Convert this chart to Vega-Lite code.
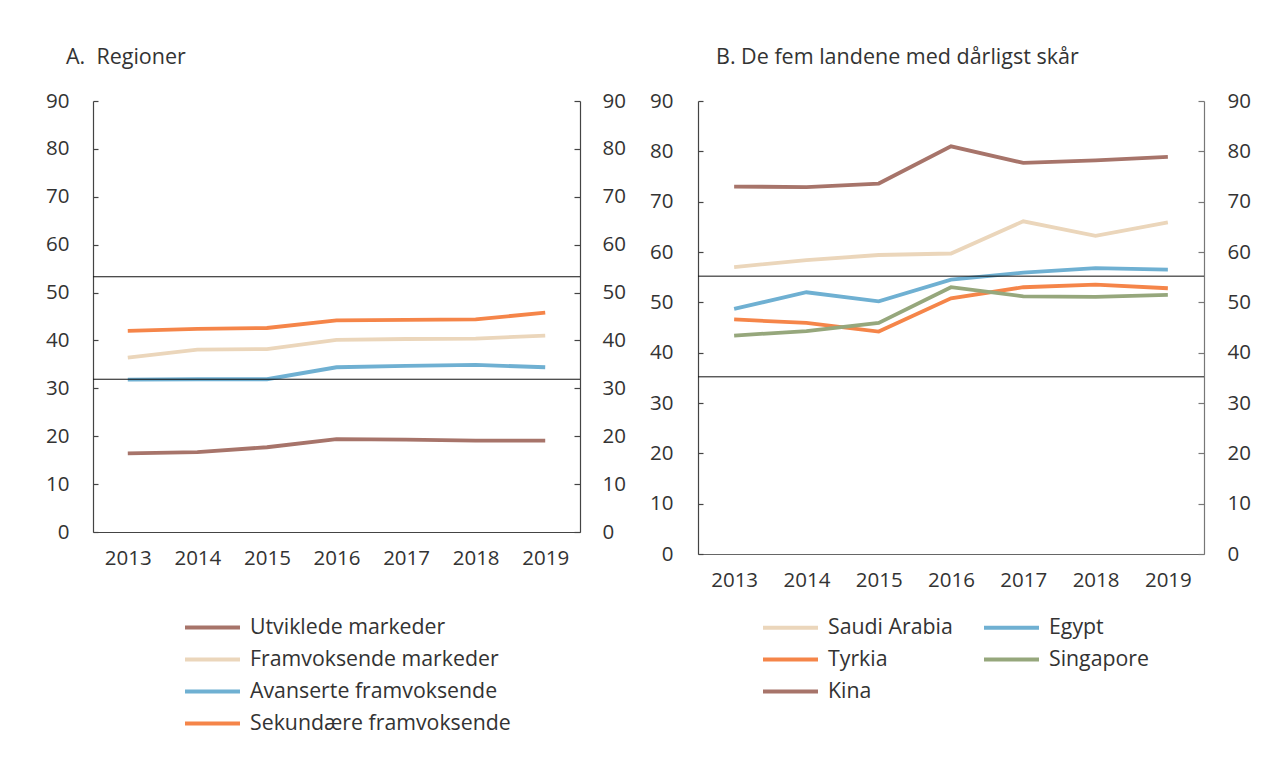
{
  "$schema": "https://vega.github.io/schema/vega-lite/v6.json",
  "padding": {"left": 45, "top": 46, "right": 5, "bottom": 5},
  "spacing": 23,
  "resolve": {"scale": {"color": "independent"}, "legend": {"color": "independent"}},
  "config": {
    "font": "Open Sans",
    "view": {"stroke": null},
    "axis": {"labelFont": "Open Sans", "labelFontSize": 20.5, "labelColor": "#333", "grid": false, "title": null, "domainColor": "#444", "tickColor": "#444", "domainWidth": 1.2, "tickWidth": 1.2},
    "title": {"font": "Open Sans", "fontSize": 21.5, "fontWeight": "normal", "color": "#333", "anchor": "start", "frame": "group"},
    "legend": {"orient": "none", "title": null, "labelFont": "Open Sans", "labelFontSize": 21.3, "labelColor": "#333", "labelLimit": 400, "symbolType": "M-1.447,0H1.447", "symbolSize": 1444, "symbolStrokeWidth": 4, "labelOffset": 16.5, "rowPadding": 0}
  },
  "datasets": {
    "regions": [
      {"year": "2013", "series": "Utviklede markeder", "value": 16.4},
      {"year": "2014", "series": "Utviklede markeder", "value": 16.7},
      {"year": "2015", "series": "Utviklede markeder", "value": 17.7},
      {"year": "2016", "series": "Utviklede markeder", "value": 19.4},
      {"year": "2017", "series": "Utviklede markeder", "value": 19.3},
      {"year": "2018", "series": "Utviklede markeder", "value": 19.1},
      {"year": "2019", "series": "Utviklede markeder", "value": 19.1},
      {"year": "2013", "series": "Framvoksende markeder", "value": 36.4},
      {"year": "2014", "series": "Framvoksende markeder", "value": 38.1},
      {"year": "2015", "series": "Framvoksende markeder", "value": 38.2},
      {"year": "2016", "series": "Framvoksende markeder", "value": 40.1},
      {"year": "2017", "series": "Framvoksende markeder", "value": 40.3},
      {"year": "2018", "series": "Framvoksende markeder", "value": 40.4},
      {"year": "2019", "series": "Framvoksende markeder", "value": 41.0},
      {"year": "2013", "series": "Avanserte framvoksende", "value": 31.8},
      {"year": "2014", "series": "Avanserte framvoksende", "value": 31.9},
      {"year": "2015", "series": "Avanserte framvoksende", "value": 31.9},
      {"year": "2016", "series": "Avanserte framvoksende", "value": 34.4},
      {"year": "2017", "series": "Avanserte framvoksende", "value": 34.7},
      {"year": "2018", "series": "Avanserte framvoksende", "value": 34.9},
      {"year": "2019", "series": "Avanserte framvoksende", "value": 34.4},
      {"year": "2013", "series": "Sekundære framvoksende", "value": 42.0},
      {"year": "2014", "series": "Sekundære framvoksende", "value": 42.4},
      {"year": "2015", "series": "Sekundære framvoksende", "value": 42.6},
      {"year": "2016", "series": "Sekundære framvoksende", "value": 44.2},
      {"year": "2017", "series": "Sekundære framvoksende", "value": 44.3},
      {"year": "2018", "series": "Sekundære framvoksende", "value": 44.4},
      {"year": "2019", "series": "Sekundære framvoksende", "value": 45.8}
    ],
    "countries": [
      {"year": "2013", "series": "Saudi Arabia", "value": 57.0},
      {"year": "2014", "series": "Saudi Arabia", "value": 58.4},
      {"year": "2015", "series": "Saudi Arabia", "value": 59.4},
      {"year": "2016", "series": "Saudi Arabia", "value": 59.7},
      {"year": "2017", "series": "Saudi Arabia", "value": 66.1},
      {"year": "2018", "series": "Saudi Arabia", "value": 63.2},
      {"year": "2019", "series": "Saudi Arabia", "value": 65.9},
      {"year": "2013", "series": "Egypt", "value": 48.7},
      {"year": "2014", "series": "Egypt", "value": 52.0},
      {"year": "2015", "series": "Egypt", "value": 50.2},
      {"year": "2016", "series": "Egypt", "value": 54.5},
      {"year": "2017", "series": "Egypt", "value": 55.9},
      {"year": "2018", "series": "Egypt", "value": 56.8},
      {"year": "2019", "series": "Egypt", "value": 56.5},
      {"year": "2013", "series": "Tyrkia", "value": 46.6},
      {"year": "2014", "series": "Tyrkia", "value": 45.9},
      {"year": "2015", "series": "Tyrkia", "value": 44.2},
      {"year": "2016", "series": "Tyrkia", "value": 50.8},
      {"year": "2017", "series": "Tyrkia", "value": 53.0},
      {"year": "2018", "series": "Tyrkia", "value": 53.5},
      {"year": "2019", "series": "Tyrkia", "value": 52.8},
      {"year": "2013", "series": "Singapore", "value": 43.4},
      {"year": "2014", "series": "Singapore", "value": 44.3},
      {"year": "2015", "series": "Singapore", "value": 45.9},
      {"year": "2016", "series": "Singapore", "value": 53.0},
      {"year": "2017", "series": "Singapore", "value": 51.2},
      {"year": "2018", "series": "Singapore", "value": 51.1},
      {"year": "2019", "series": "Singapore", "value": 51.5},
      {"year": "2013", "series": "Kina", "value": 73.0},
      {"year": "2014", "series": "Kina", "value": 72.9},
      {"year": "2015", "series": "Kina", "value": 73.6},
      {"year": "2016", "series": "Kina", "value": 81.0},
      {"year": "2017", "series": "Kina", "value": 77.7},
      {"year": "2018", "series": "Kina", "value": 78.2},
      {"year": "2019", "series": "Kina", "value": 78.9}
    ],
    "refA": [{"ref": 53.3}, {"ref": 31.9}],
    "refB": [{"ref": 55.2}, {"ref": 35.2}]
  },
  "hconcat": [
    {
      "title": {"text": "A.\u00a0 Regioner", "dx": -27, "offset": 23},
      "width": 487,
      "height": 431,
      "resolve": {"axis": {"y": "independent"}},
      "layer": [
        {
          "data": {"name": "regions"},
          "mark": {"type": "line", "strokeWidth": 3.8},
          "encoding": {
            "x": {"field": "year", "type": "ordinal", "axis": {"labelAngle": 0, "ticks": false, "labelPadding": 16}},
            "y": {"field": "value", "type": "quantitative", "scale": {"domain": [0, 90], "nice": false}, "axis": {"orient": "left", "values": [0, 10, 20, 30, 40, 50, 60, 70, 80, 90], "tickSize": -5, "labelPadding": 29}},
            "color": {"field": "series", "type": "nominal", "scale": {"domain": ["Utviklede markeder", "Framvoksende markeder", "Avanserte framvoksende", "Sekundære framvoksende"], "range": ["#a7746a", "#ebd6bb", "#6fb0d2", "#f58549"]}, "legend": {"direction": "vertical", "legendX": 98.5, "legendY": 505.5}}
          }
        },
        {
          "data": {"name": "refA"},
          "mark": {"type": "rule", "color": "#111", "strokeWidth": 1},
          "encoding": {
            "y": {"field": "ref", "type": "quantitative", "axis": {"orient": "right", "values": [0, 10, 20, 30, 40, 50, 60, 70, 80, 90], "tickSize": -6, "labelPadding": 28}}
          }
        }
      ]
    },
    {
      "title": {"text": "B. De fem landene med dårligst skår", "dx": 18, "offset": 23},
      "width": 506,
      "height": 453,
      "resolve": {"axis": {"y": "independent"}},
      "layer": [
        {
          "data": {"name": "countries"},
          "mark": {"type": "line", "strokeWidth": 3.8},
          "encoding": {
            "x": {"field": "year", "type": "ordinal", "axis": {"labelAngle": 0, "ticks": false, "labelPadding": 16, "domainColor": "#666"}},
            "y": {"field": "value", "type": "quantitative", "scale": {"domain": [0, 90], "nice": false}, "axis": {"orient": "left", "values": [0, 10, 20, 30, 40, 50, 60, 70, 80, 90], "tickSize": -5, "labelPadding": 30}},
            "color": {"field": "series", "type": "nominal", "scale": {"domain": ["Saudi Arabia", "Egypt", "Tyrkia", "Singapore", "Kina"], "range": ["#ebd6bb", "#6fb0d2", "#f58549", "#96a77c", "#a7746a"]}, "legend": {"direction": "horizontal", "legendX": 71.5, "legendY": 505.5, "columns": 2, "columnPadding": 22}}
          }
        },
        {
          "data": {"name": "refB"},
          "mark": {"type": "rule", "color": "#111", "strokeWidth": 1},
          "encoding": {
            "y": {"field": "ref", "type": "quantitative", "axis": {"orient": "right", "values": [0, 10, 20, 30, 40, 50, 60, 70, 80, 90], "tickSize": -6, "labelPadding": 29, "domainColor": "#777", "tickColor": "#777"}}
          }
        }
      ]
    }
  ]
}
